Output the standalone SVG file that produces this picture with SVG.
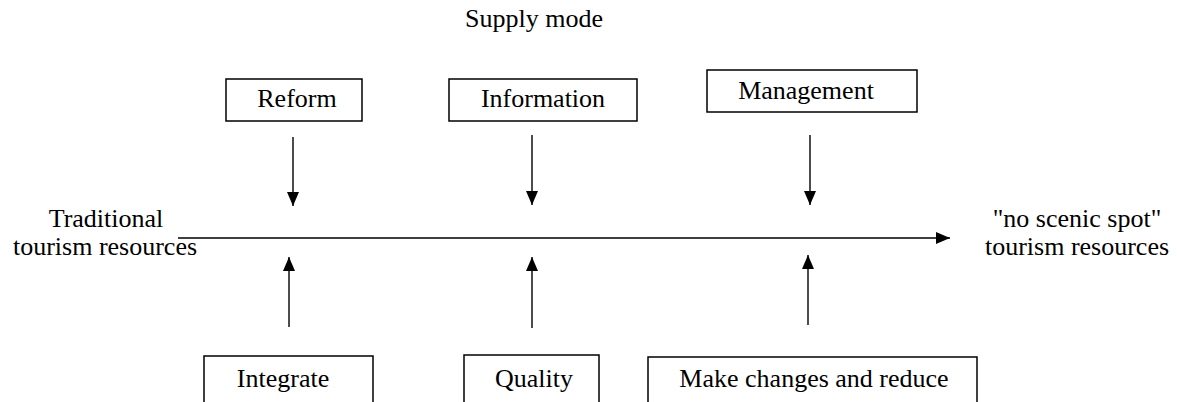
<svg xmlns="http://www.w3.org/2000/svg" width="1177" height="402" viewBox="0 0 1177 402">
  <style>
    .box { fill: #ffffff; stroke: #000000; stroke-width: 1.5; }
    .lbl { font-family: "Liberation Serif", "Times New Roman", serif; font-size: 26px; fill: #000000; text-anchor: middle; }
    .edge { stroke: #000000; stroke-width: 1.4; fill: none; marker-end: url(#head); }
  </style>
  <defs>
    <marker id="head" markerUnits="userSpaceOnUse" markerWidth="14" markerHeight="12" refX="14" refY="6" orient="auto">
      <path d="M0,0 L14,6 L0,12 Z" fill="#000000"/>
    </marker>
  </defs>
  <rect width="1177" height="402" fill="#ffffff"/>

  <text class="lbl" x="534" y="27">Supply mode</text>

  <g id="reform">
    <rect class="box" x="226" y="79" width="136" height="42"/>
    <text class="lbl" x="297" y="107">Reform</text>
  </g>
  <g id="information">
    <rect class="box" x="449" y="79" width="188" height="42"/>
    <text class="lbl" x="543" y="107">Information</text>
  </g>
  <g id="management">
    <rect class="box" x="707" y="70" width="210" height="42"/>
    <text class="lbl" x="806" y="99">Management</text>
  </g>

  <g id="traditional">
    <text class="lbl" x="106" y="227">Traditional</text>
    <text class="lbl" x="105" y="255">tourism resources</text>
  </g>
  <g id="no-scenic-spot">
    <text class="lbl" x="1077" y="227">"no scenic spot"</text>
    <text class="lbl" x="1077" y="255">tourism resources</text>
  </g>

  <g id="integrate">
    <rect class="box" x="204" y="356" width="169" height="60"/>
    <text class="lbl" x="283" y="387">Integrate</text>
  </g>
  <g id="quality">
    <rect class="box" x="464" y="355" width="135" height="60"/>
    <text class="lbl" x="534" y="387">Quality</text>
  </g>
  <g id="make-changes">
    <rect class="box" x="648" y="357" width="329" height="60"/>
    <text class="lbl" x="814" y="387">Make changes and reduce</text>
  </g>

  <g id="connectors">
    <line class="edge" x1="178" y1="238" x2="950" y2="238"/>
    <line class="edge" x1="293" y1="137" x2="293" y2="206"/>
    <line class="edge" x1="532" y1="135" x2="532" y2="205"/>
    <line class="edge" x1="810" y1="135" x2="810" y2="205"/>
    <line class="edge" x1="289" y1="327" x2="289" y2="257"/>
    <line class="edge" x1="532" y1="328" x2="532" y2="257"/>
    <line class="edge" x1="808" y1="325" x2="808" y2="255"/>
  </g>
</svg>
